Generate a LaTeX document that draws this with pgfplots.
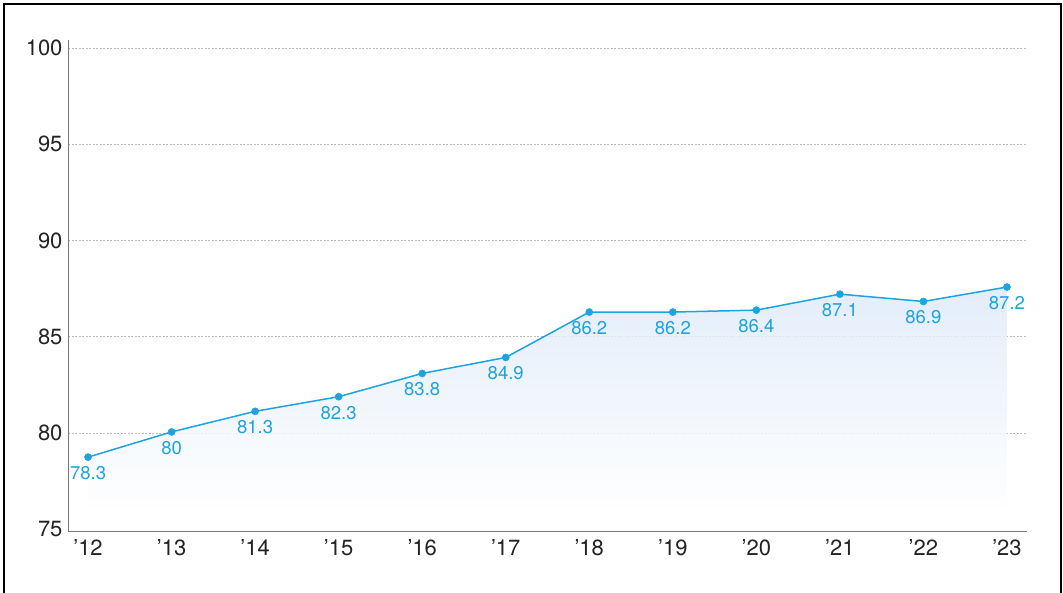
\documentclass[border=0pt]{standalone}
\usepackage{fontspec}
\setmainfont{TeX Gyre Heros}
\usepackage{pgfplots}
\pgfplotsset{compat=1.18}
\definecolor{lineblue}{RGB}{29,163,224}
\definecolor{fillblue}{RGB}{222,234,249}
\definecolor{gridgray}{RGB}{185,185,185}
\definecolor{axisgray}{RGB}{120,120,120}
\definecolor{ticktext}{RGB}{35,35,35}
\pgfplotstableread{
x y label
0 78.74 78.3
1 80.05 80
2 81.12 81.3
3 81.88 82.3
4 83.09 83.8
5 83.92 84.9
6 86.28 86.2
7 86.28 86.2
8 86.38 86.4
9 87.21 87.1
10 86.83 86.9
11 87.58 87.2
}\datatable
\begin{document}
\begin{tikzpicture}
\path[use as bounding box] (-68pt,-61pt) rectangle (995pt,531pt);
\draw[black, line width=1.8pt] (-64pt,-90pt) rectangle (993pt,527pt);
\begin{axis}[
  at={(0pt,0pt)}, anchor=south west,
  width=959pt, height=491pt, scale only axis,
  xmin=-0.24, xmax=11.24, ymin=74.9, ymax=100.42,
  axis x line*=bottom, axis y line*=left,
  axis line style={axisgray, line width=0.9pt, -},
  xtick={0,...,11},
  xticklabels={’12,’13,’14,’15,’16,’17,’18,’19,’20,’21,’22,’23},
  ytick={80,85,...,100},
  extra y ticks={75},
  extra y tick style={grid=none},
  ymajorgrids,
  grid style={gridgray, line width=0.5pt, dash pattern=on 2pt off 1.5pt},
  major tick length=0pt,
  tick label style={font=\fontsize{22}{24}\selectfont, text=ticktext},
  xticklabel style={yshift=-5pt},
  yticklabel style={xshift=-2pt},
  /pgf/number format/assume math mode=true,
]
\addplot[draw=none, top color=fillblue, bottom color=white, fill opacity=0.85, forget plot]
  table[x=x, y=y] {\datatable} -- (axis cs:11,75.8) -- (axis cs:0,75.8) -- cycle;
\addplot[lineblue, line width=1.5pt,
  mark=*, mark size=3.6pt, mark options={solid, fill=lineblue, draw=lineblue, line width=0.4pt},
  nodes near coords, point meta=explicit symbolic,
  nodes near coords style={anchor=north, inner sep=0pt, yshift=-9pt,
    font=\fontsize{18.5}{20}\selectfont, text=lineblue}]
  table[x=x, y=y, meta=label] {\datatable};
\end{axis}
\end{tikzpicture}
\end{document}
